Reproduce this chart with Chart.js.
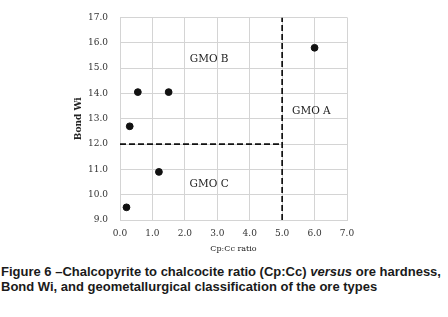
<!DOCTYPE html>
<html>
<head>
<meta charset="utf-8">
<script src="https://cdn.jsdelivr.net/npm/chart.js@4/dist/chart.umd.min.js"></script>
<style>
  html, body { margin: 0; padding: 0; background: #fff; }
  body { width: 448px; height: 317px; position: relative; overflow: hidden; }
  #wrap { position: absolute; left: 0; top: 0; width: 448px; height: 258px; }
  #caption {
    position: absolute; left: 1px; top: 264px; width: 447px;
    font-family: "Liberation Sans", Arial, sans-serif; font-weight: bold;
    font-size: 13px; line-height: 15px; color: #1a1a1a; white-space: nowrap;
  }
</style>
</head>
<body>
<div id="wrap"><canvas id="chart"></canvas></div>
<div id="caption">Figure 6 –Chalcopyrite to chalcocite ratio (Cp:Cc) <i>versus</i> ore hardness,<br>Bond Wi, and geometallurgical classification of the ore types</div>
<script>
// sample points
const cpccRatio = [0.2, 0.3, 0.55, 1.5, 1.2, 6.0];
const bondWi = [9.5, 12.7, 14.05, 14.05, 10.9, 15.8];

// dashed class boundaries
const vLineX = [5, 5];
const vLineY = [9, 17];
const hLineX = [0, 5];
const hLineY = [12, 12];

// class labels
const zoneNames = ['GMO B', 'GMO A', 'GMO C'];
const zoneX = [2.75, 5.9, 2.75];
const zoneY = [15.35, 13.3, 10.4];

const serif = "'DejaVu Serif', 'Liberation Serif', serif";
const gridGrey = '#d4d4d4';

const zoneLabels = {
    id: 'zoneLabels',
    afterDatasetsDraw(chart) {
        const { ctx, scales: { x, y } } = chart;
        ctx.save();
        ctx.font = '10.5px ' + serif;
        ctx.fillStyle = '#222';
        ctx.textAlign = 'center';
        ctx.textBaseline = 'middle';
        zoneNames.forEach((name, i) => {
            ctx.fillText(name, x.getPixelForValue(zoneX[i]), y.getPixelForValue(zoneY[i]));
        });
        ctx.restore();
    }
};

const toXY = (xs, ys) => xs.map((v, i) => ({ x: v, y: ys[i] }));

new Chart(document.getElementById('chart'), {
    type: 'scatter',
    data: {
        datasets: [
            {
                data: toXY(cpccRatio, bondWi),
                backgroundColor: '#111',
                borderColor: '#111',
                pointRadius: 3.4,
                order: 0
            },
            {
                data: toXY(vLineX, vLineY),
                showLine: true,
                borderColor: '#111',
                borderWidth: 1.7,
                borderDash: [6, 3],
                pointRadius: 0,
                order: 1
            },
            {
                data: toXY(hLineX, hLineY),
                showLine: true,
                borderColor: '#111',
                borderWidth: 1.7,
                borderDash: [6, 3],
                pointRadius: 0,
                order: 1
            }
        ]
    },
    options: {
        responsive: true,
        maintainAspectRatio: false,
        animation: false,
        events: [],
        layout: { padding: { left: 70, right: 101, top: 14, bottom: 2 } },
        plugins: { legend: { display: false }, tooltip: { enabled: false } },
        scales: {
            x: {
                type: 'linear', min: 0, max: 7,
                grid: { color: gridGrey, drawTicks: false },
                border: { color: gridGrey },
                ticks: {
                    stepSize: 1, padding: 8, color: '#333',
                    font: { family: serif, size: 9 },
                    callback: v => v.toFixed(1)
                },
                title: {
                    display: true, text: 'Cp:Cc ratio', color: '#222',
                    font: { family: serif, size: 8 },
                    padding: { top: 0, bottom: 2 }
                },
                afterFit: s => { s.height = 36; }
            },
            y: {
                type: 'linear', min: 9, max: 17,
                grid: { color: gridGrey, drawTicks: false },
                border: { color: gridGrey },
                ticks: {
                    stepSize: 1, padding: 12, color: '#333',
                    font: { family: serif, size: 9 },
                    callback: v => v.toFixed(1)
                },
                title: {
                    display: true, text: 'Bond Wi', color: '#222',
                    font: { family: serif, size: 9, weight: 'bold' },
                    padding: { top: 3, bottom: 0 }
                },
                afterFit: s => { s.width = 50; }
            }
        }
    },
    plugins: [zoneLabels]
});
</script>
</body>
</html>
